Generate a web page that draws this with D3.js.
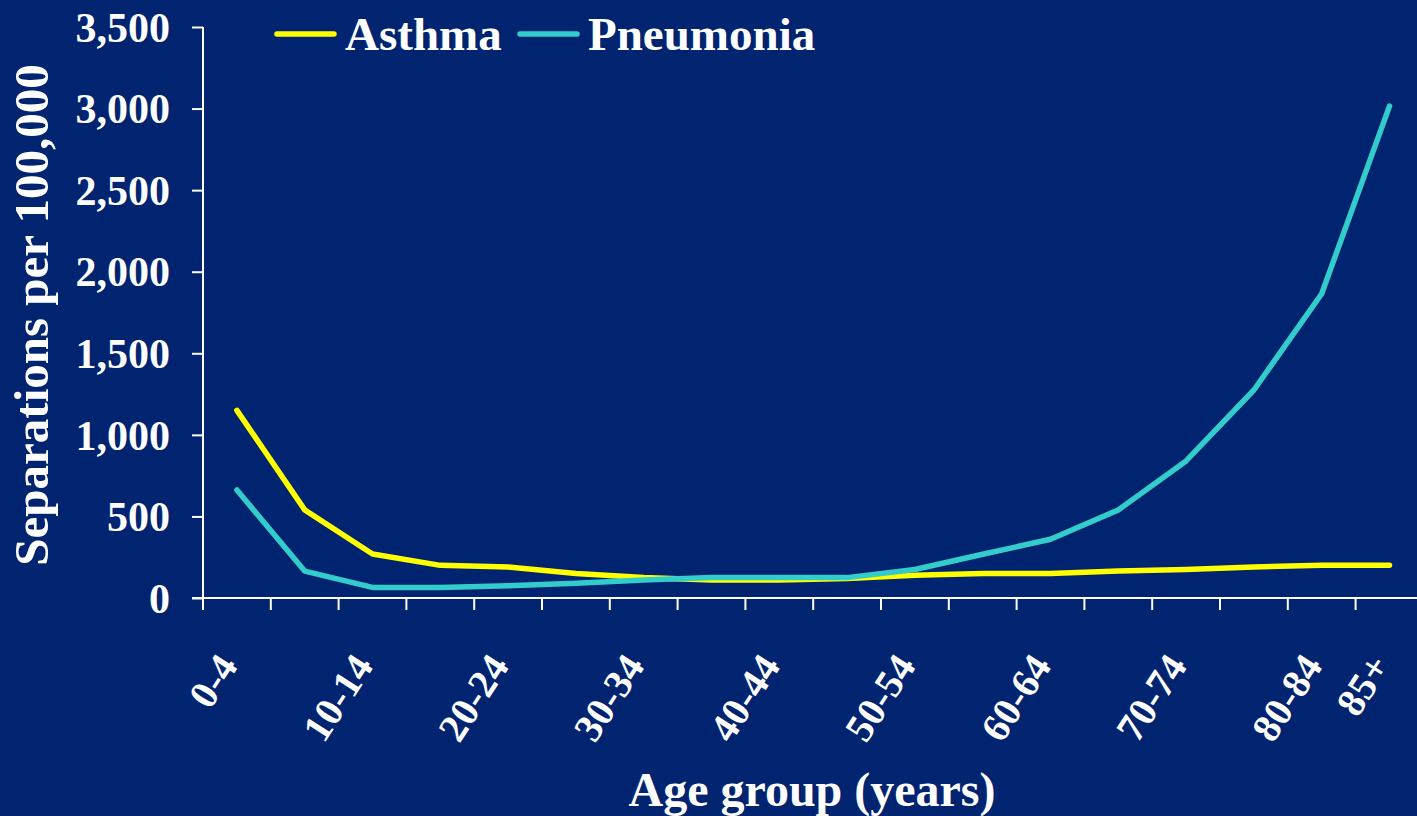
<!DOCTYPE html>
<html>
<head>
<meta charset="utf-8">
<script src="https://cdn.jsdelivr.net/npm/d3@7"></script>
<style>
  html, body { margin: 0; padding: 0; background: #012470; }
  svg { display: block; font-family: "Liberation Serif", "Times New Roman", serif; font-weight: bold; }
</style>
</head>
<body>
<svg id="chart" width="1417" height="816"></svg>
<script>
// age groups
var ageGroups = ["0-4", "5-9", "10-14", "15-19", "20-24", "25-29", "30-34", "35-39", "40-44",
                 "45-49", "50-54", "55-59", "60-64", "65-69", "70-74", "75-79", "80-84", "85+"];
// labels shown under the axis
var shownLabels = ["0-4", "10-14", "20-24", "30-34", "40-44", "50-54", "60-64", "70-74", "80-84", "85+"];
// separations per 100,000
var asthma    = [1150, 540, 270, 200, 190, 150, 125, 110, 110, 120, 140, 150, 150, 165, 175, 190, 200, 200];
var pneumonia = [662, 165, 65, 65, 75, 90, 110, 125, 125, 125, 175, 268, 360, 540, 840, 1275, 1865, 3015];
var yTicks = [0, 500, 1000, 1500, 2000, 2500, 3000, 3500];

var seriesNames = ["Asthma", "Pneumonia"];
var seriesColors = ["#FFFF00", "#33CCCC"];

var svg = d3.select("#chart");
var plotLeft = 203, plotBottom = 598, plotTop = 27;
var band = 67.8;

var xBand = d3.scaleBand().domain(ageGroups).range([plotLeft, plotLeft + band * ageGroups.length]);
var x = function(d) { return xBand(d) + xBand.bandwidth() / 2; };
var y = d3.scaleLinear().domain([0, 3500]).range([plotBottom, plotTop]);

// Y axis
var yAxis = svg.append("g")
    .attr("transform", "translate(" + plotLeft + ",0)")
    .call(d3.axisLeft(y).tickValues(yTicks).tickFormat(d3.format(",")).tickSize(11).tickPadding(22));
yAxis.select(".domain").attr("stroke", "#fff").attr("stroke-width", 2).attr("d", "M0," + plotTop + "V" + plotBottom);
yAxis.selectAll(".tick line").attr("stroke", "#fff").attr("stroke-width", 2);
yAxis.selectAll(".tick text")
    .attr("fill", "#fff")
    .style("font-size", "42px")
    .style("font-family", "'Liberation Serif', 'Times New Roman', serif")
    .style("font-weight", "bold")
    .attr("dy", "0.34em");

// X axis line and boundary ticks
svg.append("line")
    .attr("x1", plotLeft - 11).attr("x2", 1417)
    .attr("y1", plotBottom).attr("y2", plotBottom)
    .attr("stroke", "#fff").attr("stroke-width", 2);
svg.append("g").selectAll("line")
    .data(ageGroups)
    .enter().append("line")
    .attr("x1", function(d) { return xBand(d); })
    .attr("x2", function(d) { return xBand(d); })
    .attr("y1", plotBottom).attr("y2", plotBottom + 12)
    .attr("stroke", "#fff").attr("stroke-width", 2);

// X tick labels (rotated)
svg.append("g").selectAll("text")
    .data(shownLabels)
    .enter().append("text")
    .attr("transform", function(d) { return "translate(" + (x(d) + 2) + ",666) rotate(-57)"; })
    .attr("text-anchor", "end")
    .attr("fill", "#fff")
    .style("font-size", "40px")
    .text(function(d) { return d; });

// lines
var line = d3.line()
    .x(function(d) { return x(d.g); })
    .y(function(d) { return y(d.v); });

[asthma, pneumonia].forEach(function(vals, i) {
    svg.append("path")
        .datum(ageGroups.map(function(g, j) { return { g: g, v: vals[j] }; }))
        .attr("d", line)
        .attr("fill", "none")
        .attr("stroke", seriesColors[i])
        .attr("stroke-width", 5.5)
        .attr("stroke-linejoin", "round")
        .attr("stroke-linecap", "round");
});

// legend
var legendX = [277, 520];
seriesNames.forEach(function(name, i) {
    svg.append("line")
        .attr("x1", legendX[i]).attr("x2", legendX[i] + 57)
        .attr("y1", 34).attr("y2", 34)
        .attr("stroke", seriesColors[i])
        .attr("stroke-width", 5.5)
        .attr("stroke-linecap", "round");
    svg.append("text")
        .attr("x", legendX[i] + 68)
        .attr("y", 50)
        .attr("fill", "#fff")
        .style("font-size", "47px")
        .text(name);
});

// axis titles
svg.append("text")
    .attr("x", 812)
    .attr("y", 806)
    .attr("text-anchor", "middle")
    .attr("fill", "#fff")
    .style("font-size", "48px")
    .text("Age group (years)");

svg.append("text")
    .attr("transform", "translate(48,315) rotate(-90)")
    .attr("text-anchor", "middle")
    .attr("fill", "#fff")
    .style("font-size", "49px")
    .text("Separations per 100,000");
</script>
</body>
</html>
